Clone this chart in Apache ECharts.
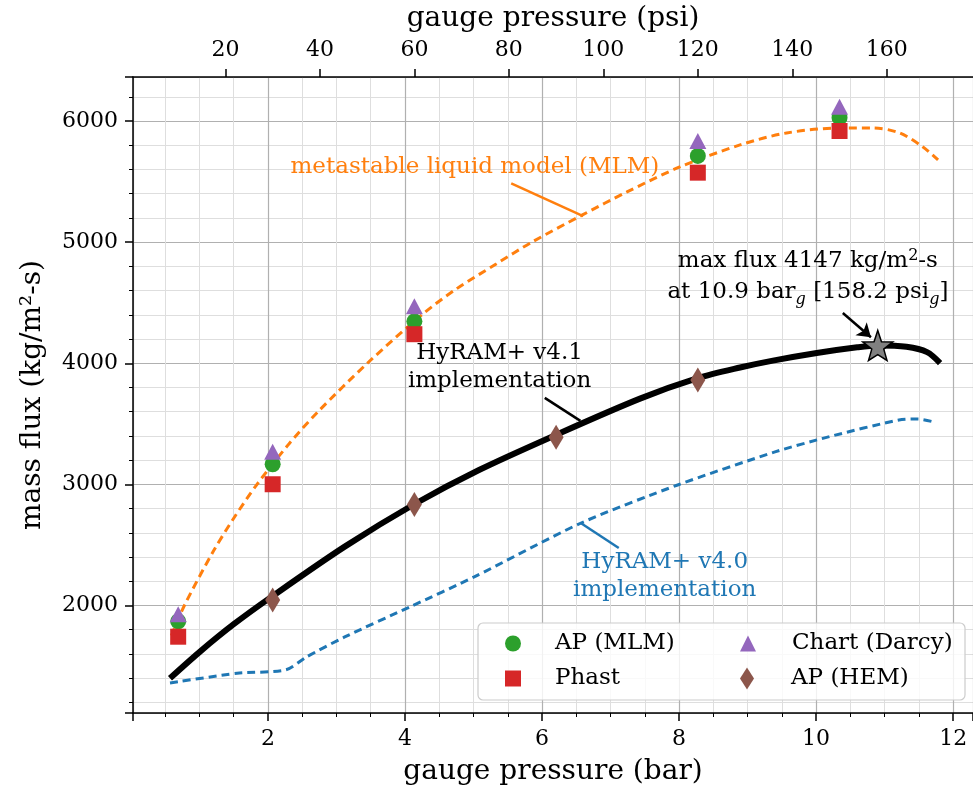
<!DOCTYPE html>
<html><head><meta charset="utf-8">
<script src="https://cdn.jsdelivr.net/npm/echarts@6/dist/echarts.min.js"></script>
<style>html,body{margin:0;padding:0;background:#fff}#c{width:973px;height:792px}</style>
</head><body><div id="c"></div>
<script>
// ---------- data ----------
const PSI_PER_BAR = 14.5038;
const xMin = 0.03, xMax = 12.29;
const yMin = 1112, yMax = 6364;

// experimental / reference points (pressure in psi)
const expPsi = [10, 30, 60, 120, 150];
const apMLM = [1869, 3166, 4346, 5712, 6028];
const phast = [1742, 3001, 4240, 5574, 5918];
const chartDarcy = [1927, 3269, 4470, 5836, 6119];
const hemPsi = [30, 60, 90, 120];
const apHEM = [2045, 2833, 3389, 3862];

// HyRAM+ v4.1 (bar, kg/m2-s)
const v41X = [0.57, 1.0, 1.5, 2.06, 3.12, 4.14, 5.08, 6.20, 7.43, 8.27, 8.89, 9.37, 10.01, 10.60, 10.90, 11.32, 11.62, 11.81];
const v41Y = [1399, 1615, 1845, 2075, 2486, 2838, 3119, 3408, 3708, 3877, 3965, 4022, 4085, 4132, 4147, 4136, 4092, 4002];

// metastable liquid model
const mlmX = [0.59, 0.78, 1.2, 1.5, 1.84, 2.3, 2.73, 3.45, 4.26, 4.75, 5.33, 5.85, 6.59, 7.24, 8.01, 8.89, 9.57, 10.35, 10.83, 11.22, 11.56, 11.78];
const mlmY = [1751, 2000, 2445, 2720, 3000, 3330, 3600, 4000, 4407, 4614, 4820, 5000, 5225, 5415, 5621, 5803, 5902, 5943, 5943, 5902, 5786, 5679];

// HyRAM+ v4.0
const v40X = [0.57, 1.55, 2.26, 2.57, 3.12, 4.07, 5.01, 6.57, 7.98, 9.40, 10.18, 11.21, 11.49, 11.72];
const v40Y = [1360, 1440, 1468, 1577, 1740, 1988, 2236, 2681, 2995, 3268, 3392, 3532, 3540, 3515];

// max flux point
const maxX = [10.9];
const maxY = [4147];

// ---------- helpers ----------
const FONT = 'DejaVu Serif';
const zip = (xs, ys) => xs.map((x, i) => [x, ys[i]]);
const psiToBar = p => p / PSI_PER_BAR;
const pts = (ps, ys) => ps.map((p, i) => [psiToBar(p), ys[i]]);
const STAR = 'path://M0,-10 L2.35,-3.24 L9.51,-3.09 L3.8,1.24 L5.88,8.09 L0,4.6 L-5.88,8.09 L-3.8,1.24 L-9.51,-3.09 L-2.35,-3.24 Z';
const THIN_DIAMOND = 'path://M0,0 L7,11 L0,22 L-7,11 Z';

const chart = echarts.init(document.getElementById('c'), null, {renderer: 'canvas'});

function legendFor(name, left, top, w, h, padLeft, icon) {
  const d = {name: name};
  if (icon) d.icon = icon;
  return {orient: 'vertical', left: left, top: top, padding: 0, itemWidth: w, itemHeight: h,
          data: [d], z: 6, selectedMode: false,
          textStyle: {fontFamily: FONT, fontSize: 23, color: '#000', padding: [0, 0, 0, padLeft]}};
}

const option = {
  animation: false,
  backgroundColor: '#fff',
  grid: {left: 133, right: 0, top: 77, bottom: 79, containLabel: false},
  xAxis: [{
    type: 'value', position: 'bottom', min: xMin, max: xMax, splitNumber: 6,
    axisLine: {show: true, onZero: false, lineStyle: {color: '#000', width: 1.5}},
    axisTick: {show: true, inside: false, length: 8, lineStyle: {color: '#000', width: 1.5}},
    minorTick: {show: true, splitNumber: 4, length: 4, lineStyle: {color: '#000', width: 1}},
    splitLine: {show: true, lineStyle: {color: '#b0b0b0', width: 1.2}},
    minorSplitLine: {show: true, lineStyle: {color: '#dedede', width: 1}},
    axisLabel: {fontFamily: FONT, fontSize: 22, color: '#000', margin: 15, showMinLabel: false, showMaxLabel: false},
    name: 'gauge pressure (bar)', nameLocation: 'middle', nameGap: 45,
    nameTextStyle: {fontFamily: FONT, fontSize: 28, color: '#000'}
  }, {
    type: 'value', position: 'top', min: xMin * PSI_PER_BAR, max: xMax * PSI_PER_BAR, splitNumber: 9,
    axisLine: {show: true, onZero: false, lineStyle: {color: '#000', width: 1.5}},
    axisTick: {show: true, inside: false, length: 8, lineStyle: {color: '#000', width: 1.5}},
    minorTick: {show: false},
    splitLine: {show: false},
    axisLabel: {fontFamily: FONT, fontSize: 22, color: '#000', margin: 16, showMinLabel: false, showMaxLabel: false},
    name: 'gauge pressure (psi)', nameLocation: 'middle', nameGap: 44,
    nameTextStyle: {fontFamily: FONT, fontSize: 28, color: '#000'}
  }],
  yAxis: [{
    type: 'value', min: yMin, max: yMax, splitNumber: 5,
    axisLine: {show: true, onZero: false, lineStyle: {color: '#000', width: 1.5}},
    axisTick: {show: true, inside: false, length: 8, lineStyle: {color: '#000', width: 1.5}},
    minorTick: {show: true, splitNumber: 5, length: 4, lineStyle: {color: '#000', width: 1}},
    splitLine: {show: true, lineStyle: {color: '#b0b0b0', width: 1.2}},
    minorSplitLine: {show: true, lineStyle: {color: '#dedede', width: 1}},
    axisLabel: {fontFamily: FONT, fontSize: 22, color: '#000', margin: 15, showMinLabel: false, showMaxLabel: false,
                formatter: v => String(Math.round(v))},
    name: 'mass flux (kg/m²-s)', nameLocation: 'middle', nameGap: 86,
    nameTextStyle: {fontFamily: FONT, fontSize: 28, color: '#000'}
  }],
  legend: [
    legendFor('AP (MLM)', 505, 632, 16, 16, 29),
    legendFor('Phast', 505, 667, 16, 16, 29),
    legendFor('Chart (Darcy)', 740, 632, 16, 16, 31),
    legendFor('AP (HEM)', 740, 667, 16, 22, 31, THIN_DIAMOND)
  ],
  graphic: [{
    type: 'rect', z: 4, silent: true,
    shape: {x: 478, y: 623, width: 487, height: 77, r: 5},
    style: {fill: 'rgba(255,255,255,0.82)', stroke: '#cccccc', lineWidth: 1.2}
  }],
  series: [
    {
      name: 'HyRAM+ v4.0', type: 'line', data: zip(v40X, v40Y), smooth: 0.25, showSymbol: false, z: 2,
      lineStyle: {color: '#1f77b4', width: 3, type: [8, 5]}, silent: true
    },
    {
      name: 'MLM', type: 'line', data: zip(mlmX, mlmY), smooth: 0.3, showSymbol: false, z: 2,
      lineStyle: {color: '#ff7f0e', width: 3, type: [8, 5]}, silent: true
    },
    {
      name: 'HyRAM+ v4.1', type: 'line', data: zip(v41X, v41Y), smooth: 0.3, showSymbol: false, z: 2,
      lineStyle: {color: '#000', width: 6}, silent: true,
      markLine: {
        silent: true, symbol: ['none', 'none'], label: {show: false}, animation: false,
        data: [
          [{coord: [5.55, 5486], lineStyle: {color: '#ff7f0e', width: 2.5, type: 'solid'}}, {coord: [6.60, 5216]}],
          [{coord: [6.04, 3714], lineStyle: {color: '#000', width: 2.5, type: 'solid'}}, {coord: [6.56, 3524]}],
          [{coord: [6.57, 2679], lineStyle: {color: '#1f77b4', width: 2.5, type: 'solid'}}, {coord: [7.12, 2475]}],
          [{coord: [10.39, 4415], symbol: 'none', lineStyle: {color: '#000', width: 2.5, type: 'solid'}},
           {coord: [10.80, 4215], symbol: 'arrow', symbolSize: 13}]
        ]
      },
      markPoint: {
        silent: true, symbol: 'circle', symbolSize: 0, itemStyle: {color: 'rgba(0,0,0,0)'},
        data: [
          {coord: [5.02, 5621], label: {show: true, position: 'inside', formatter: 'metastable liquid model (MLM)',
            fontFamily: FONT, fontSize: 23, color: '#ff7f0e'}},
          {coord: [5.38, 3972], label: {show: true, position: 'inside', formatter: 'HyRAM+ v4.1\nimplementation',
            fontFamily: FONT, fontSize: 23, lineHeight: 28, color: '#000', align: 'center'}},
          {coord: [7.79, 2240], label: {show: true, position: 'inside', formatter: 'HyRAM+ v4.0\nimplementation',
            fontFamily: FONT, fontSize: 23, lineHeight: 28, color: '#1f77b4', align: 'center'}},
          {coord: [9.88, 4713], label: {show: true, position: 'inside', align: 'center',
            formatter: '{t|max flux 4147 kg/m}{sup|2}{t|-s}\n{t|at 10.9 bar}{sub|g}{t| [158.2 psi}{sub|g}{t|]}',
            rich: {
              t: {fontFamily: FONT, fontSize: 23, color: '#000', lineHeight: 31},
              sup: {fontFamily: FONT, fontSize: 16, color: '#000', lineHeight: 31, verticalAlign: 'top', padding: [2, 0, 0, 0]},
              sub: {fontFamily: FONT, fontSize: 16, fontStyle: 'italic', color: '#000', lineHeight: 31, verticalAlign: 'bottom'}
            }}}
        ]
      }
    },
    {
      name: 'AP (MLM)', type: 'scatter', data: pts(expPsi, apMLM), symbol: 'circle', symbolSize: 16, z: 4,
      itemStyle: {color: '#2ca02c', opacity: 1}
    },
    {
      name: 'Phast', type: 'scatter', data: pts(expPsi, phast), symbol: 'rect', symbolSize: 16, z: 4,
      itemStyle: {color: '#d62728', opacity: 1}
    },
    {
      name: 'Chart (Darcy)', type: 'scatter', data: pts(expPsi, chartDarcy), symbol: 'triangle', symbolSize: [17, 16], z: 4,
      itemStyle: {color: '#9467bd', opacity: 1}
    },
    {
      name: 'AP (HEM)', type: 'scatter', data: pts(hemPsi, apHEM), symbol: 'diamond', symbolSize: [15, 25], z: 4,
      itemStyle: {color: '#8c564b', opacity: 1}
    },
    {
      name: 'max flux', type: 'scatter', data: zip(maxX, maxY), symbol: STAR, symbolSize: 30, z: 5,
      itemStyle: {color: '#808080', borderColor: '#000', borderWidth: 1.5, opacity: 1}
    }
  ]
};
chart.setOption(option);
</script>
</body></html>
